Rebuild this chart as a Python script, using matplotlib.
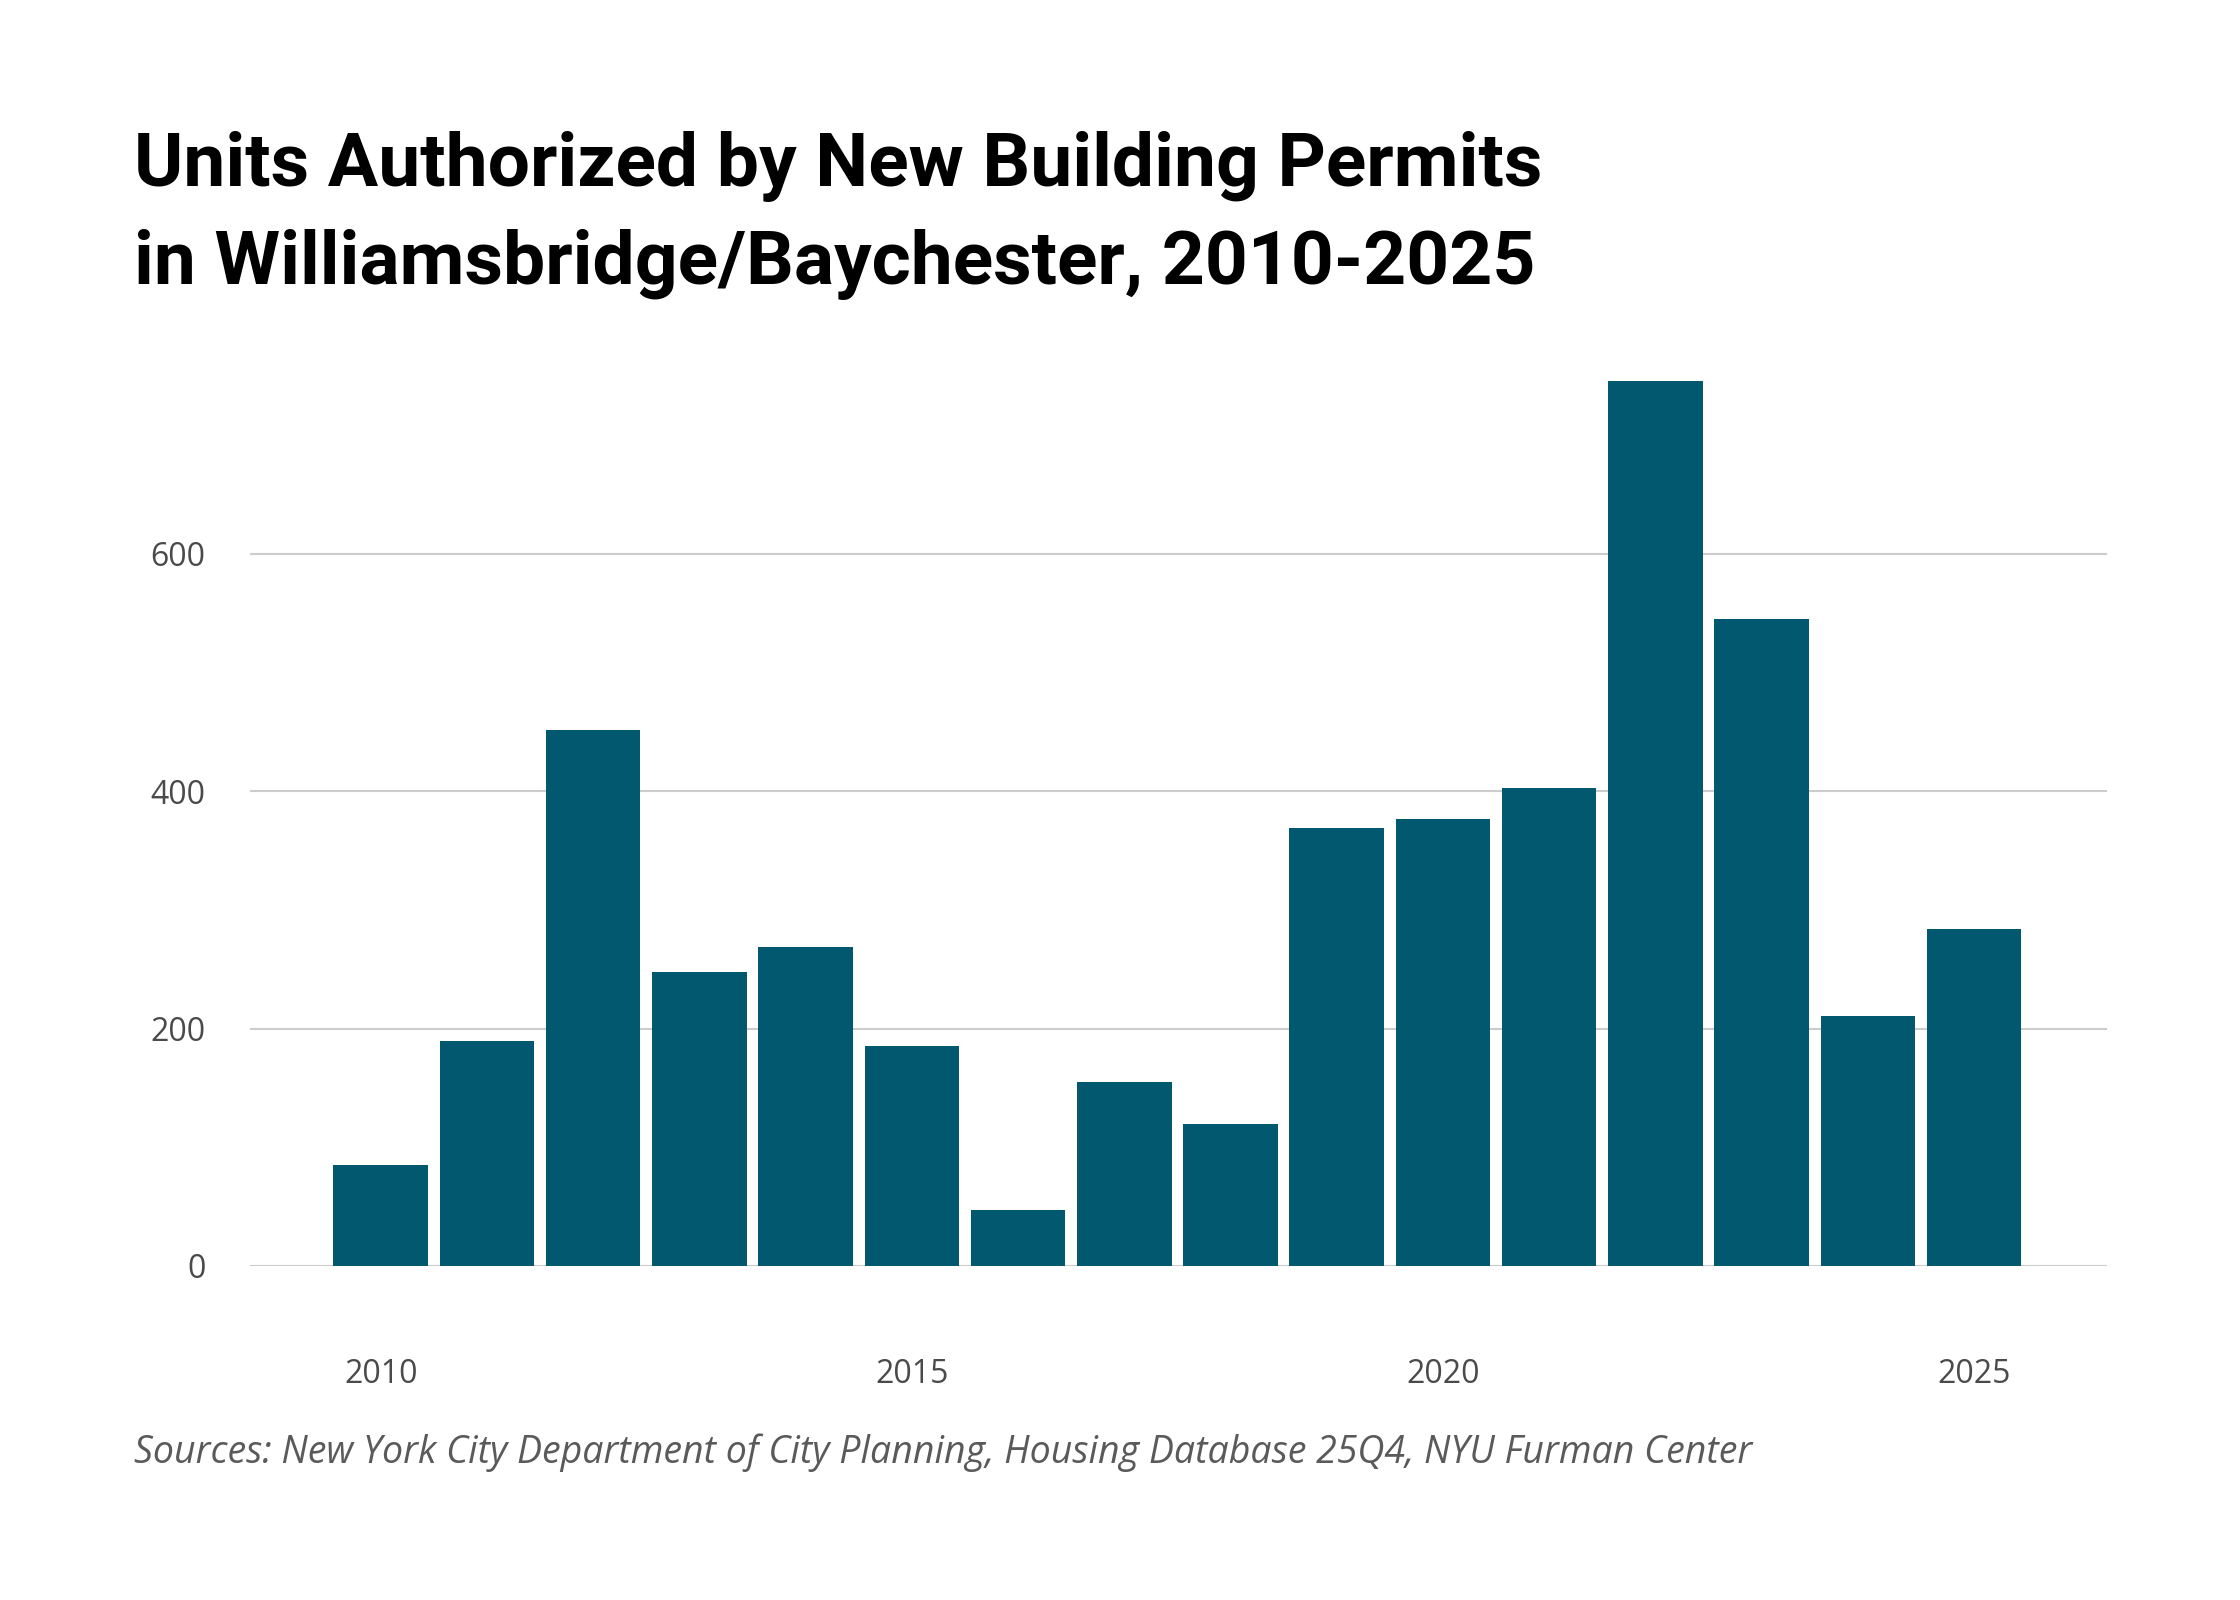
import numpy as np
import matplotlib
matplotlib.use('Agg')
import matplotlib.pyplot as plt

# units authorized by new building permits
years = list(range(2010, 2026))
units = [85, 190, 452, 248, 269, 185, 47, 155, 120, 369, 377, 403, 746, 545, 211, 284]

xticks = [2010, 2015, 2020, 2025]
yticks = [0, 200, 400, 600]

title = 'Units Authorized by New Building Permits\nin Williamsbridge/Baychester, 2010-2025'
source = 'Sources: New York City Department of City Planning, Housing Database 25Q4, NYU Furman Center'

bar_color = '#02596f'
tick_color = '#4a4a4a'

fig = plt.figure(figsize=(22.4, 16), dpi=100)
fig.patch.set_facecolor('white')

ax = fig.add_axes([0.1116, 0.20875, 0.829, 0.55625])
ax.bar(years, units, width=0.89, color=bar_color, zorder=3)

ax.set_xlim(2008.77, 2026.25)
ax.set_ylim(0, 750)
ax.set_xticks(xticks)
ax.set_yticks(yticks)
ax.grid(axis='y', color='#cccccc', linewidth=1.5, zorder=0)
ax.grid(axis='x', visible=False)
for s in ax.spines.values():
    s.set_visible(False)

ax.tick_params(axis='both', length=0, labelsize=23, labelcolor=tick_color)
ax.tick_params(axis='x', pad=66)
ax.tick_params(axis='y', pad=32)
for lab in ax.get_xticklabels() + ax.get_yticklabels():
    lab.set_family('Open Sans')

fig.text(134 / 2240, 1 - 131 / 1600, title, fontsize=54, fontweight='bold',
         family='Roboto', color='black', va='top', ha='left', linespacing=1.5)

fig.text(134 / 2240, 1 - 1463 / 1600, source, fontsize=27, style='italic',
         family='Open Sans', color='#5a5a5a', va='baseline', ha='left')

plt.savefig('out.png', dpi=100, facecolor='white')
plt.close()
